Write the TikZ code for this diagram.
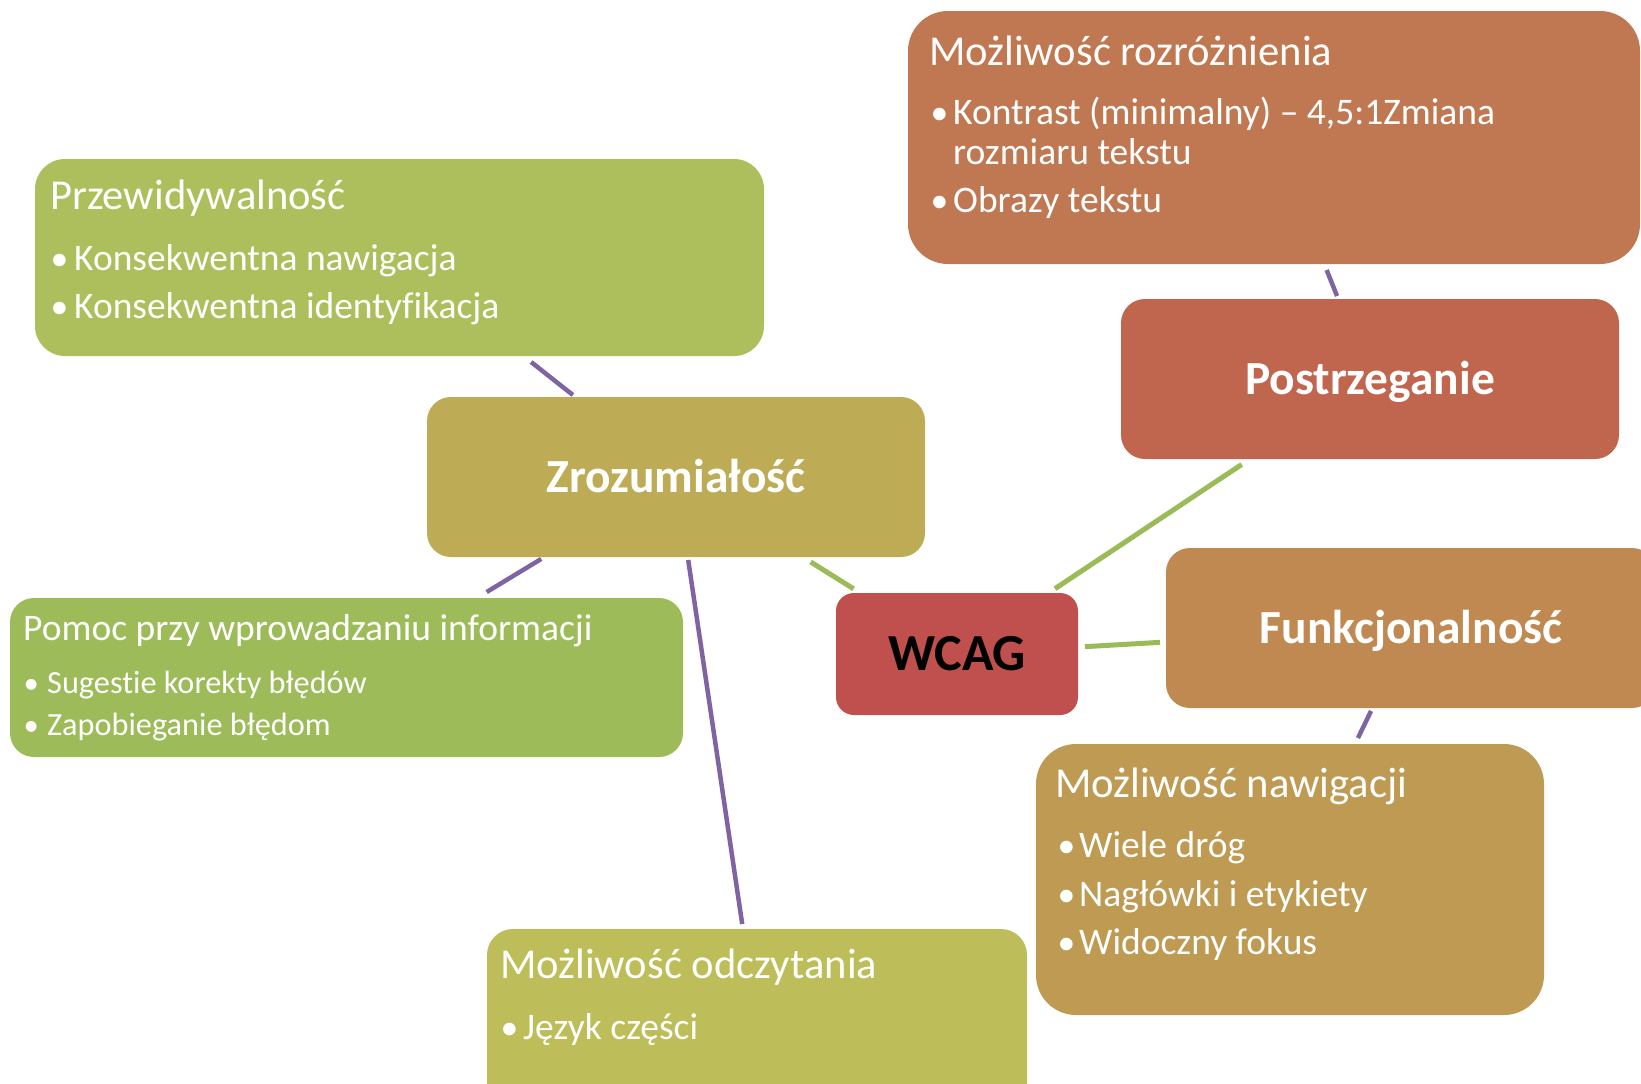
\documentclass[tikz,border=0pt]{standalone}
\usepackage{graphicx}
\usepackage{fontspec}
\setmainfont{Carlito}[Ligatures=NoCommon]
\definecolor{cRoz}{RGB}{191,120,81}
\definecolor{cPos}{RGB}{192,101,78}
\definecolor{cPrz}{RGB}{173,190,92}
\definecolor{cZro}{RGB}{190,171,85}
\definecolor{cWca}{RGB}{192,80,77}
\definecolor{cFun}{RGB}{192,137,82}
\definecolor{cPom}{RGB}{157,187,89}
\definecolor{cNaw}{RGB}{190,154,82}
\definecolor{cOdc}{RGB}{189,189,89}
\definecolor{cPur}{RGB}{128,100,162}
\definecolor{cGrn}{RGB}{155,187,89}
\newcommand{\bdot}[1]{\makebox[#1][l]{\hspace{-1.5pt}\scalebox{0.95}{•}}}
\begin{document}
\begin{tikzpicture}[x=1pt,y=-1pt,
  box/.style={draw=none, inner sep=0pt, outer sep=0pt, rounded corners=#1},
  big/.style={font=\bfseries\fontsize{47.5}{56}\selectfont, text=white, text height=30.5pt, text depth=0pt},
  ttl/.style={anchor=base west, inner sep=0pt, text=white, font=\fontsize{42.6}{50}\selectfont},
  itm/.style={anchor=base west, inner sep=0pt, text=white, font=\fontsize{37.5}{44}\selectfont},
  ttls/.style={anchor=base west, inner sep=0pt, text=white, font=\fontsize{37.5}{44}\selectfont},
  itms/.style={anchor=base west, inner sep=0pt, text=white, font=\fontsize{32.3}{38}\selectfont},
  pur/.style={draw=cPur, line width=4.5pt},
  grn/.style={draw=cGrn, line width=5pt}]
\useasboundingbox (0,0) rectangle (1641,1084);

% boxes
\node[box=40pt, fill=cRoz, minimum width=732pt, minimum height=253pt] (roz) at (1274,137.5) {};
\node[box=24pt, fill=cPos, minimum width=498pt, minimum height=160pt, big] (pos) at (1370,379) {Postrzeganie};
\node[box=30pt, fill=cPrz, minimum width=729pt, minimum height=197pt] (prz) at (399.5,257.5) {};
\node[box=24pt, fill=cZro, minimum width=498pt, minimum height=160pt, big] (zro) at (676,477) {Zrozumiałość};
\node[box=18pt, fill=cWca, minimum width=242pt, minimum height=122pt, font=\bfseries\fontsize{52}{60}\selectfont, text=black, text height=33.5pt, text depth=0pt] (wca) at (957,654) {WCAG};
\node[box=24pt, fill=cFun, minimum width=490pt, minimum height=160pt, big] (fun) at (1411,628) {Funkcjonalność};
\node[box=24pt, fill=cPom, minimum width=673pt, minimum height=159pt] (pom) at (346.5,677.5) {};
\node[box=40pt, fill=cNaw, minimum width=508pt, minimum height=271pt] (naw) at (1290,879.5) {};
\node[box=26pt, fill=cOdc, minimum width=540pt, minimum height=191pt] (odc) at (757,1024.5) {};

% texts
\node[ttl] (rozT) at (929,65) {Możliwość rozróżnienia};
\node[itm] (rozA) at (932,124) {\bdot{21pt}Kontrast (minimalny) – 4,5:1Zmiana};
\node[itm] (rozA2) at (953,164) {rozmiaru tekstu};
\node[itm] (rozB) at (932,212) {\bdot{21pt}Obrazy tekstu};

\node[ttl] (przT) at (50,209) {Przewidywalność};
\node[itm] (przA) at (52,270) {\bdot{22pt}Konsekwentna nawigacja};
\node[itm] (przB) at (52,318) {\bdot{22pt}Konsekwentna identyfikacja};

\node[ttls] (pomT) at (23,640) {Pomoc przy wprowadzaniu informacji};
\node[itms] (pomA) at (25,693) {\bdot{22pt}Sugestie korekty błędów};
\node[itms] (pomB) at (25,735) {\bdot{22pt}Zapobieganie błędom};

\node[ttl] (odcT) at (500,978) {Możliwość odczytania};
\node[itm] (odcA) at (502,1039) {\bdot{21pt}Język części};

\node[ttl] (nawT) at (1055,797) {Możliwość nawigacji};
\node[itm] (nawA) at (1059,857) {\bdot{20pt}Wiele dróg};
\node[itm] (nawB) at (1059,906) {\bdot{20pt}Nagłówki i etykiety};
\node[itm] (nawC) at (1059,954) {\bdot{20pt}Widoczny fokus};

% connectors
\draw[pur, shorten <=6.5pt, shorten >=3.2pt] (roz) -- (pos);
\draw[pur, shorten <=9.7pt, shorten >=3.2pt] (prz) -- (zro);
\draw[pur, shorten <=3.8pt, shorten >=11.5pt] (zro) -- (pom);
\draw[pur, shorten <=3pt, shorten >=5pt] (zro) -- (odc);
\draw[pur, shorten <=3.3pt, shorten >=6.6pt] (fun) -- (naw);
\draw[grn, shorten <=9.2pt, shorten >=7.8pt] (zro) -- (wca);
\draw[grn, shorten <=9.9pt, shorten >=7.8pt] (pos) -- (wca);
\draw[grn, shorten <=7pt, shorten >=6pt] (wca) -- (fun);
\end{tikzpicture}
\end{document}
